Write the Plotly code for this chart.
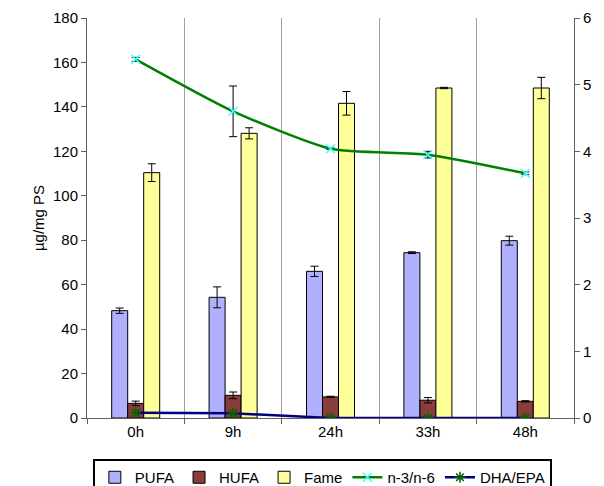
import plotly.graph_objects as go

categories = ["0h", "9h", "24h", "33h", "48h"]
pufa = [48.3, 54.3, 66.0, 74.4, 79.8]
pufa_err = [1.2, 4.7, 2.3, 0.4, 2.0]
hufa = [6.6, 10.2, 9.5, 8.0, 7.5]
hufa_err = [1.0, 1.5, 0.3, 1.2, 0.3]
fame = [110.4, 128.1, 141.6, 148.5, 148.5]
fame_err = [4.0, 2.5, 5.3, 0.3, 4.8]
n3n6 = [5.38, 4.60, 4.04, 3.95, 3.67]
n3n6_err = [0.03, 0.38, 0.01, 0.05, 0.02]
dha_epa = [0.08, 0.07, 0.0, 0.0, 0.0]
left_ticks = list(range(0, 181, 20))
right_ticks = list(range(0, 7))

FONT = "Liberation Sans, Arial, sans-serif"

def err(vals):
    return dict(type="data", array=vals, visible=True, color="black",
                thickness=1, width=4)

fig = go.Figure()
fig.add_trace(go.Bar(name="PUFA", x=categories, y=pufa, error_y=err(pufa_err),
                     marker=dict(color="#B0B0FF", line=dict(color="black", width=1))))
fig.add_trace(go.Bar(name="HUFA", x=categories, y=hufa, error_y=err(hufa_err),
                     marker=dict(color="#883C3C", line=dict(color="black", width=1))))
fig.add_trace(go.Bar(name="Fame", x=categories, y=fame, error_y=err(fame_err),
                     marker=dict(color="#FFFF99", line=dict(color="black", width=1))))
fig.add_trace(go.Scatter(name="n-3/n-6", x=categories, y=n3n6, yaxis="y2",
                         mode="lines+markers", error_y=err(n3n6_err),
                         line=dict(color="#008000", width=2.5, shape="spline", smoothing=0.6),
                         marker=dict(symbol="x-thin-open", size=9,
                                     line=dict(color="#40FFFF", width=1.5), color="#40FFFF")))
fig.add_trace(go.Scatter(name="DHA/EPA", x=categories, y=dha_epa, yaxis="y2",
                         mode="lines+markers",
                         line=dict(color="#000080", width=2.5),
                         marker=dict(symbol="asterisk-open", size=9,
                                     line=dict(color="#006400", width=1.5), color="#006400")))

fig.update_layout(
    width=604, height=486,
    margin=dict(l=87, r=30, t=18, b=68, autoexpand=False),
    paper_bgcolor="white", plot_bgcolor="white",
    font=dict(family=FONT, size=15, color="black"),
    barmode="group", bargap=0.507, bargroupgap=0,
    showlegend=True,
    legend=dict(orientation="h", x=0.012, y=-0.1025, xanchor="left", yanchor="top",
                bordercolor="black", borderwidth=2, bgcolor="white",
                font=dict(family=FONT, size=15), traceorder="normal",
                itemwidth=30, tracegroupgap=0),
    xaxis=dict(type="category", tickson="boundaries", showgrid=True,
               gridcolor="#A0A0A0", gridwidth=1, ticks="outside", ticklen=5,
               tickcolor="#606060", showline=True, linecolor="#606060",
               tickfont=dict(size=15)),
    yaxis=dict(range=[0, 180], tickvals=left_ticks, showgrid=False, zeroline=False,
               ticks="outside", ticklen=5, tickcolor="#606060", showline=True,
               linecolor="#606060", tickfont=dict(size=15),
               title=dict(text="µg/mg PS", font=dict(size=15), standoff=4)),
    yaxis2=dict(range=[0, 6], tickvals=right_ticks, overlaying="y", side="right",
                showgrid=False, zeroline=False, ticks="outside", ticklen=5,
                tickcolor="#606060", showline=True, linecolor="#606060",
                tickfont=dict(size=15)),
)

# remove the browser's default 8px body margin so the figure fills the window
fig.write_html("out.html",
               config={"displayModeBar": False},
               post_script="document.body.style.margin='0';document.body.style.overflow='hidden';")
